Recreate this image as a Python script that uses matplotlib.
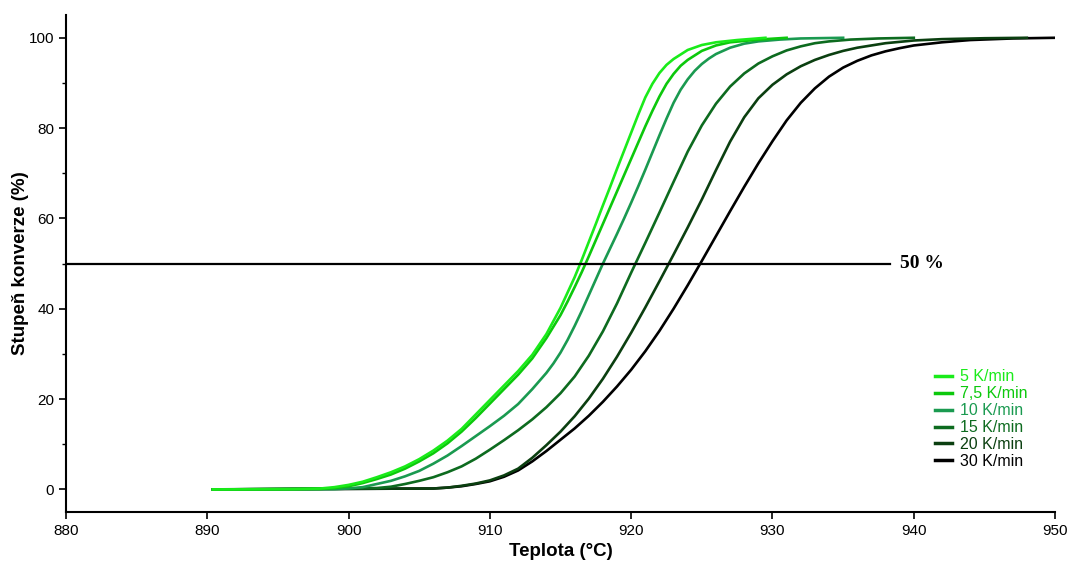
import matplotlib
matplotlib.use("Agg")
import matplotlib.pyplot as plt

# values (teplota in °C, konverze in %)
labels = ["5 K/min", "7,5 K/min", "10 K/min", "15 K/min", "20 K/min", "30 K/min"]
colors = ["#1aeb1a", "#0cc80c", "#1a9a50", "#0d6b1f", "#0b3f10", "#000000"]

t_5 = [890.4, 896, 898, 899, 900, 901, 902, 903, 904, 905, 906, 907, 908, 909, 910, 911,
       912, 913, 914, 915, 916, 916.5, 917, 917.5, 918, 918.5, 919, 919.5,
       920, 920.5, 921, 921.5, 922, 922.5, 923, 924, 925, 926, 927.5, 929.5]
y_5 = [0, 0.05, 0.2, 0.5, 1.0, 1.7, 2.7, 3.8, 5.1, 6.7, 8.6, 10.8, 13.4, 16.6, 19.8, 23.0,
       26.2, 29.8, 34.4, 40.2, 47.0, 50.8, 54.8, 58.8, 62.9, 66.9, 71.0, 75.0,
       79.0, 83.0, 86.8, 89.8, 92.2, 94.0, 95.3, 97.3, 98.4, 99.0, 99.5, 100]

t_75 = [890.4, 898, 899, 900, 901, 902, 903, 904, 905, 906, 907, 908, 909, 910, 911, 912,
        913, 914, 915, 915.5, 916, 916.5, 917, 917.5, 918, 918.5, 919, 919.5, 920,
        920.5, 921, 921.5, 922, 922.5, 923, 923.5, 924, 925, 926, 927, 929, 931]
y_75 = [0, 0.1, 0.3, 0.7, 1.4, 2.3, 3.3, 4.6, 6.2, 8.0, 10.2, 12.8, 15.8, 19.0, 22.2, 25.4,
        29.0, 33.5, 38.6, 41.6, 44.8, 48.1, 51.6, 55.2, 58.8, 62.4, 66.0, 69.6, 73.2,
        76.8, 80.4, 83.8, 87.0, 89.8, 92.0, 93.8, 95.1, 97.1, 98.3, 99.0, 99.6, 100]

t_10 = [890.4, 899, 900, 901, 902, 903, 904, 905, 906, 907, 908, 909, 910, 911, 912, 913,
        914, 914.5, 915, 915.5, 916, 916.5, 917, 917.5, 918, 918.5, 919, 919.5, 920, 920.5,
        921, 921.5, 922, 922.5, 923, 923.5, 924, 924.5, 925, 925.5, 926, 927, 928, 929,
        930.5, 932, 935]
y_10 = [0, 0.05, 0.2, 0.5, 1.2, 1.9, 2.9, 4.1, 5.7, 7.5, 9.6, 11.8, 14.0, 16.3, 18.9, 22.2,
        25.8, 27.9, 30.3, 33.1, 36.2, 39.5, 43.0, 46.5, 50.0, 53.3, 56.6, 60.0, 63.5, 67.1,
        70.8, 74.6, 78.4, 82.1, 85.6, 88.5, 90.8, 92.7, 94.2, 95.4, 96.4, 97.8, 98.7, 99.2,
        99.6, 99.85, 100]

t_15 = [890.4, 902, 903, 904, 905, 906, 907, 908, 909, 910, 911, 912, 913, 914, 915, 916,
        917, 918, 919, 920, 921, 922, 923, 924, 925, 926, 927, 928, 929, 930, 931, 932,
        933, 934, 935.5, 937.5, 940]
y_15 = [0, 0.3, 0.6, 1.2, 1.9, 2.7, 3.8, 5.1, 6.8, 8.8, 10.9, 13.1, 15.5, 18.2, 21.3, 25.0,
        29.6, 35.0, 41.2, 48.0, 54.6, 61.3, 68.1, 74.8, 80.6, 85.4, 89.2, 92.1, 94.3, 95.9,
        97.2, 98.1, 98.8, 99.2, 99.6, 99.85, 100]

t_20 = [890.4, 906, 907, 908, 909, 910, 911, 912, 913, 914, 915, 916, 917, 918, 919, 920,
        921, 922, 923, 924, 925, 926, 927, 928, 929, 930, 931, 932, 933, 934, 935, 936,
        938, 940, 942, 945, 948]
y_20 = [0, 0.2, 0.4, 0.8, 1.3, 2.0, 3.1, 4.6, 7.0, 9.8, 12.8, 16.2, 20.1, 24.5, 29.4, 34.7,
        40.3, 46.1, 52.0, 58.0, 64.2, 70.7, 77.0, 82.4, 86.6, 89.6, 91.9, 93.7, 95.1, 96.2,
        97.1, 97.8, 98.8, 99.4, 99.7, 99.9, 100]

t_30 = [890.4, 906, 907, 908, 909, 910, 911, 912, 913, 914, 915, 916, 917, 918, 919, 920,
        921, 922, 923, 924, 925, 926, 927, 928, 929, 930, 931, 932, 933, 934, 935, 936,
        937, 938, 939, 940, 942, 944, 947, 950]
y_30 = [0, 0.2, 0.4, 0.7, 1.2, 1.8, 2.8, 4.2, 6.2, 8.5, 11.0, 13.5, 16.3, 19.4, 22.8, 26.5,
        30.6, 35.1, 40.0, 45.2, 50.6, 56.1, 61.6, 67.0, 72.2, 77.1, 81.7, 85.6, 88.8, 91.4,
        93.4, 94.9, 96.1, 97.0, 97.7, 98.3, 99.0, 99.5, 99.85, 100]

temps = [t_5, t_75, t_10, t_15, t_20, t_30]
conv = [y_5, y_75, y_10, y_15, y_20, y_30]

plt.rcParams["font.family"] = ["Liberation Sans", "DejaVu Sans"]

fig = plt.figure(figsize=(10.69, 5.63), dpi=100, facecolor="white")
ax = fig.add_axes([0.0617, 0.0906, 0.9253, 0.8824])

# draw slowest rate last so it sits on top, like the original
handles = [None] * len(labels)
for i in reversed(range(len(labels))):
    line, = ax.plot(temps[i], conv[i], color=colors[i], lw=1.9, label=labels[i],
                    solid_joinstyle="round")
    handles[i] = line

# 50 % reference line
ax.plot([880, 938.3], [50, 50], color="black", lw=1.6, zorder=5)
ax.text(939.0, 50, "50 %", family=["Liberation Serif"], fontweight="bold",
        fontsize=14, va="center", ha="left")

ax.set_xlim(880, 950)
ax.set_ylim(-5, 105)
ax.set_xticks(range(880, 951, 10))
ax.set_yticks(range(0, 101, 20))
ax.set_yticks(range(10, 100, 20), minor=True)

for s in ["top", "right"]:
    ax.spines[s].set_visible(False)
for s in ["left", "bottom"]:
    ax.spines[s].set_linewidth(1.5)

ax.tick_params(axis="both", which="major", length=5, width=1.2, labelsize=11, direction="out")
ax.tick_params(axis="y", which="minor", length=3, width=1.0)

ax.set_xlabel("Teplota (°C)", fontsize=13.5, fontweight="bold", labelpad=4)
ax.set_ylabel("Stupeň konverze (%)", fontsize=13.5, fontweight="bold", labelpad=0)

leg = ax.legend(handles=handles, loc="upper left", bbox_to_anchor=(0.872, 0.30),
                frameon=False, fontsize=11.5, handlelength=1.1, handletextpad=0.45,
                labelspacing=0.12, labelcolor="linecolor", borderaxespad=0)
for h in leg.get_lines():
    h.set_linewidth(2.5)

fig.savefig("out.png", dpi=100, facecolor="white")
